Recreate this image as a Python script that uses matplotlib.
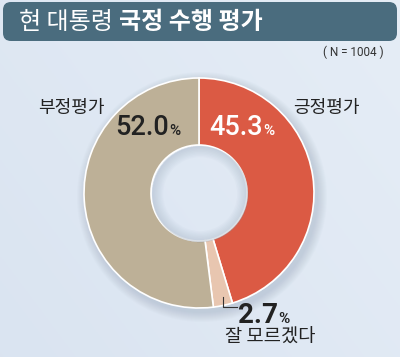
import matplotlib
matplotlib.use("Agg")
import matplotlib.pyplot as plt
import numpy as np
from matplotlib.patches import FancyBboxPatch, Circle, Wedge

# data
labels = ["긍정평가", "잘 모르겠다", "부정평가"]
values = [45.3, 2.7, 52.0]
colors = ["#db5a44", "#e8c6b0", "#bdb097"]
title_light = "현 대통령 "
title_bold = "국정 수행 평가"
sample_note = "( N = 1004 )"

KR = ["Noto Sans CJK KR", "DejaVu Sans"]
NUM = ["Roboto", "DejaVu Sans"]

W, H = 400, 357
fig = plt.figure(figsize=(W / 100, H / 100), dpi=100)
bg = fig.add_axes([0, 0, 1, 1])
bg.set_xlim(0, W)
bg.set_ylim(H, 0)
bg.axis("off")

# background gradient
gx = np.linspace(0, 1, 200)
gy = np.linspace(0, 1, 200)
GX, GY = np.meshgrid(gx, gy)
c1 = np.array([0.855, 0.894, 0.945])
c2 = np.array([0.900, 0.930, 0.965])
t = (0.6 * GX + 0.4 * (1 - GY))[..., None]
img = c1 * (1 - t) + c2 * t
bg.imshow(img, extent=[0, W, H, 0], aspect="auto", zorder=0)

# title bar
bar = FancyBboxPatch((3, 2), 394, 39, boxstyle="round,pad=0,rounding_size=8",
                     facecolor="#4a6c7e", edgecolor="none", zorder=1)
bg.add_patch(bar)

# soft shadow ring outside donut
cx, cy, R = 199, 193, 115
for i in range(10):
    bg.add_patch(Wedge((cx + 3, cy + 4), R + 10 - i, 0, 360, width=14 - i,
                       facecolor="#7f93a8", alpha=0.03, edgecolor="none", zorder=1))

# donut
pax = fig.add_axes([(cx - R) / W, (H - cy - R) / H, 2 * R / W, 2 * R / H])
pax.pie(values, colors=colors, startangle=90, counterclock=False, radius=1,
        wedgeprops=dict(width=1 - 48 / 115, edgecolor="white", linewidth=1.2))
pax.set_xlim(-1, 1)
pax.set_ylim(-1, 1)
pax.axis("off")
pax.patch.set_visible(False)

# subtle inner shading in hole
r_in = 48 / 115
for i in range(8):
    pax.add_patch(Wedge((0.01, -0.01), r_in, 0, 360, width=0.012 * (i + 1),
                        facecolor="#9aaabd", alpha=0.05, edgecolor="none"))

# overlay for text
top = fig.add_axes([0, 0, 1, 1])
top.set_xlim(0, W)
top.set_ylim(H, 0)
top.axis("off")
top.patch.set_visible(False)

top.text(19, 22, title_light, family=KR, fontsize=17.3, color="white",
         va="center", ha="left")
top.text(119, 22, title_bold, family=KR, fontsize=17.3, color="white",
         fontweight="bold", va="center", ha="left")
top.text(384, 52, sample_note, family=NUM, fontsize=8.5, color="#333333",
         va="center", ha="right")

top.text(71, 108, labels[2], family=KR, fontsize=13, color="#222222",
         ha="center", va="center")
top.text(326, 108, labels[0], family=KR, fontsize=13, color="#222222",
         ha="center", va="center")
top.text(270, 337, labels[1], family=KR, fontsize=13.5, color="#222222",
         ha="center", va="center")

def pct(x, y, val, color, weight, size=19.5):
    top.text(x, y, f"{val:.1f}", family=NUM, fontsize=size, color=color,
             fontweight=weight, ha="right", va="baseline")
    top.text(x + 0.5, y, "%", family=NUM, fontsize=11, color=color,
             fontweight=weight, ha="left", va="baseline")

pct(169, 135, values[2], "#222222", "medium")
pct(263, 135, values[0], "white", "medium")
pct(278, 323, values[1], "#222222", "bold", 20)

# bracket line
top.plot([223, 223, 237], [297, 307, 307], color="#333333", lw=0.8)

fig.savefig("out.png", dpi=100)
